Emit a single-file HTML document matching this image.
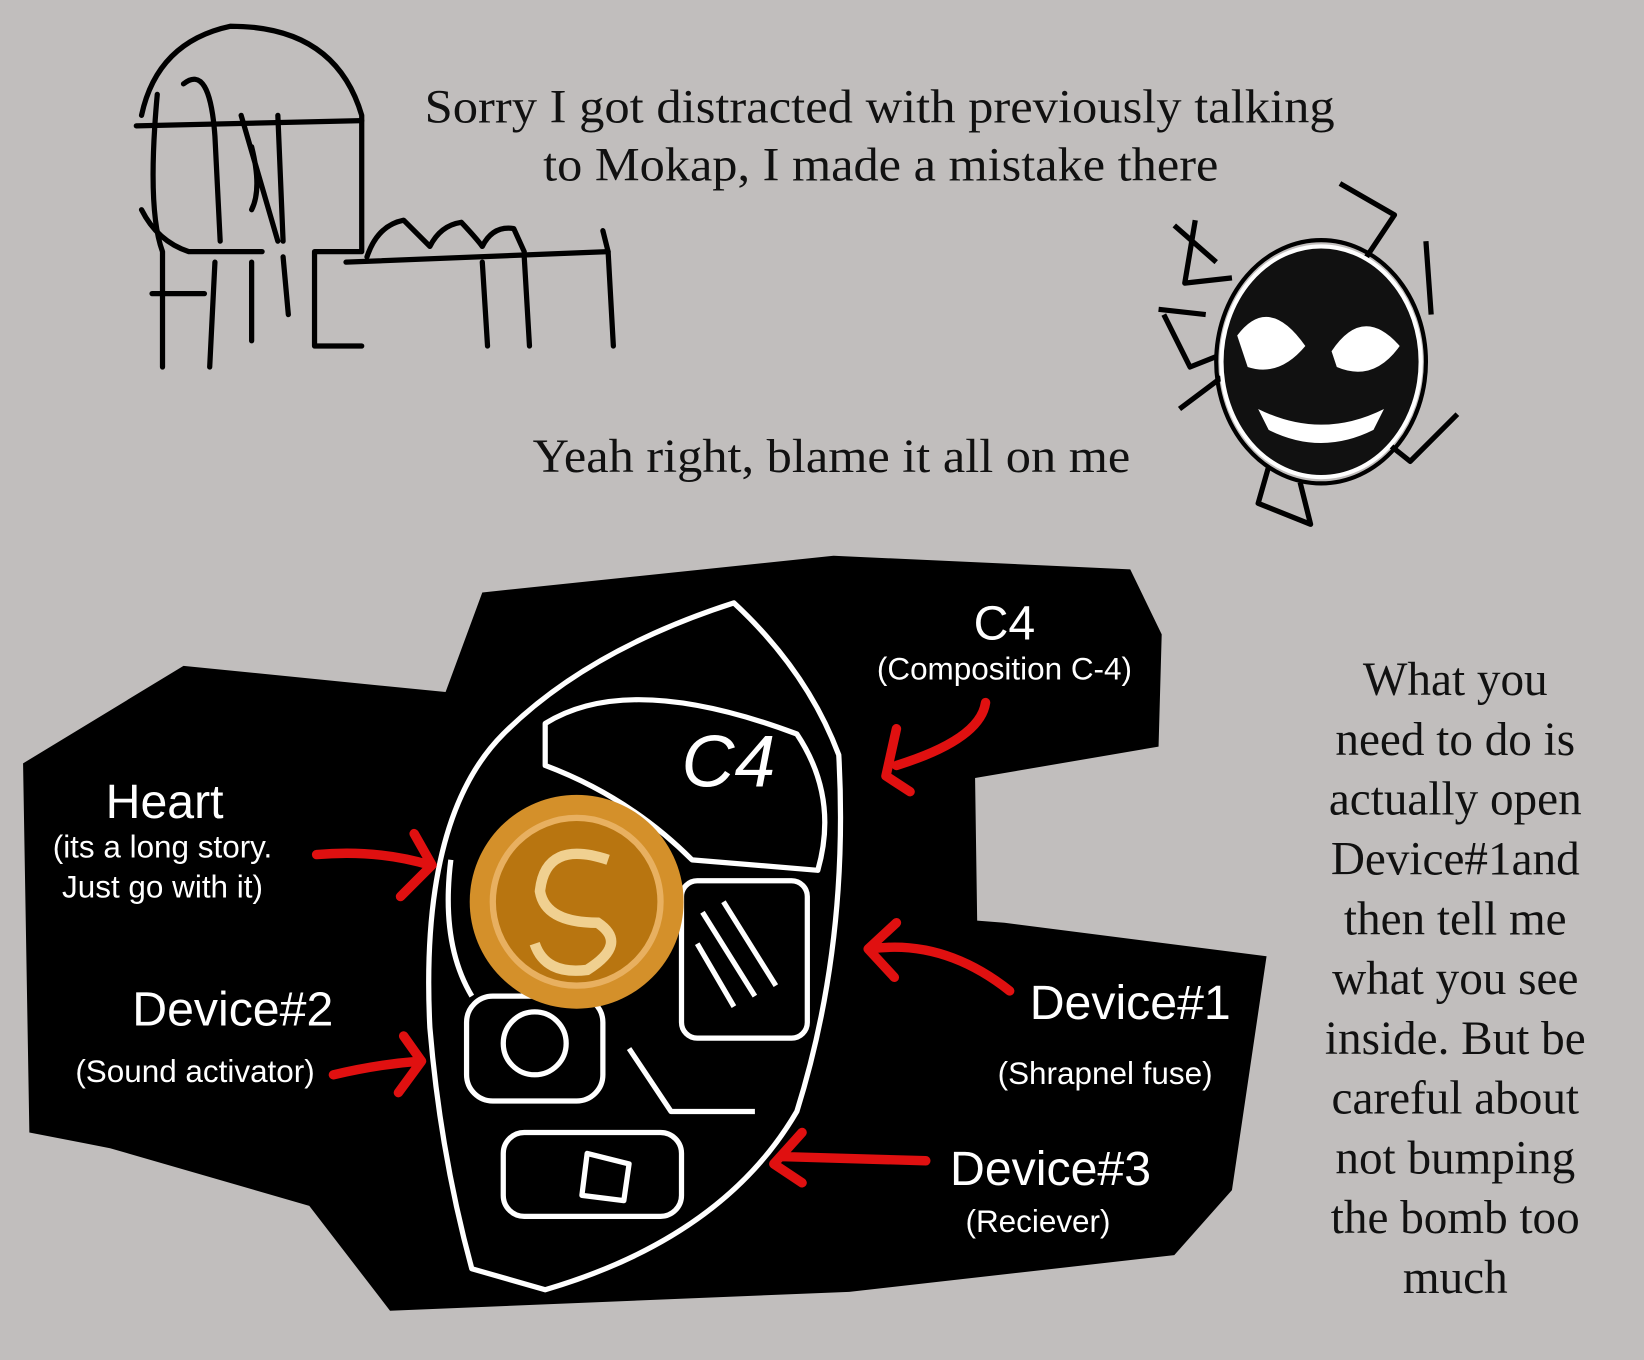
<!DOCTYPE html>
<html><head><meta charset="utf-8"><style>
html,body{margin:0;padding:0;background:#c1bebd;}
svg{display:block}
.s{font-family:"Liberation Serif",serif;fill:#111;}
.w{font-family:"Liberation Sans",sans-serif;fill:#fff;}
</style></head><body>
<svg width="1644" height="1360" viewBox="0 0 1568 1297" preserveAspectRatio="none" xmlns="http://www.w3.org/2000/svg">
<rect width="1568" height="1297" fill="#c1bebd"/>
<g fill="none" stroke="#000" stroke-width="5" stroke-linecap="round" stroke-linejoin="round">
<path d="M135,110 Q150,40 220,25 Q320,25 345,110 L345,240 L300,240 L300,330 L345,330"/>
<path d="M130,120 L345,115"/>
<path d="M150,90 Q140,200 155,240 L155,350"/>
<path d="M200,350 L205,250"/>
<path d="M175,80 Q200,60 205,130 L210,230"/>
<path d="M230,110 L265,230 M265,110 L270,230 M240,140 Q250,180 240,200"/>
<path d="M135,200 Q150,230 180,240 L250,240"/>
<path d="M145,280 L195,280 M240,250 L240,325 M270,245 L275,300"/>
<path d="M330,250 L580,240 L585,330 M460,250 L465,330 M500,245 L505,330"/>
<path d="M350,245 Q360,215 385,210 Q400,225 410,235 Q420,215 440,212 Q455,228 460,235 Q470,215 490,218 L500,240"/>
<path d="M575,220 L580,240"/>
</g>
<text class="s" x="405" y="117" font-size="45" textLength="868" lengthAdjust="spacingAndGlyphs">Sorry I got distracted with previously talking</text>
<text class="s" x="518" y="172" font-size="45" textLength="644" lengthAdjust="spacingAndGlyphs">to Mokap, I made a mistake there</text>
<text class="s" x="508" y="450" font-size="45" textLength="570" lengthAdjust="spacingAndGlyphs">Yeah right, blame it all on me</text>
<g fill="none" stroke="#000" stroke-width="5" stroke-linejoin="round">
<path d="M1278,175 L1330,205 L1300,250 M1360,230 L1365,300 M1105,295 L1150,300 M1125,390 L1165,360 M1140,210 L1130,270 L1175,265 M1390,395 L1345,440 L1320,420 M1210,445 L1200,480 L1250,500 L1240,460"/>
<path d="M1110,300 L1135,350 L1160,340 M1120,215 L1160,250"/>
</g>
<ellipse cx="1260" cy="345" rx="95" ry="110" fill="#111" stroke="#fff" stroke-width="4"/>
<ellipse cx="1260" cy="345" rx="100" ry="116" fill="none" stroke="#000" stroke-width="4"/>
<path d="M1180,320 Q1210,280 1245,330 Q1220,360 1190,350 Z" fill="#fff"/>
<path d="M1270,335 Q1300,290 1335,330 Q1310,365 1275,350 Z" fill="#fff"/>
<path d="M1200,390 Q1260,420 1320,390 L1310,410 Q1260,435 1210,410 Z" fill="#fff"/>
<polygon points="22,728 175,635 425,660 460,565 795,530 1078,543 1108,605 1105,712 930,742 932,878 958,880 1208,912 1175,1135 1120,1197 810,1232 372,1250 295,1150 105,1095 28,1080" fill="#000"/>
<g fill="none" stroke="#fff" stroke-width="5" stroke-linejoin="round">
<path d="M700,575 Q770,640 800,720 Q810,900 760,1060 Q690,1180 520,1230 L450,1210 Q420,1100 410,980 Q400,780 480,700 Q560,620 700,575 Z"/>
<path d="M520,690 Q600,640 760,700 Q800,760 780,830 L660,820 Q600,760 520,730 Z"/>
<rect x="650" y="840" width="120" height="150" rx="15"/>
<rect x="445" y="950" width="130" height="100" rx="25"/>
<circle cx="510" cy="995" r="30"/>
<rect x="480" y="1080" width="170" height="80" rx="20"/>
<path d="M560,1100 L600,1110 L595,1145 L555,1140 Z"/>
<path d="M670,870 L720,950 M690,860 L740,940 M665,900 L700,960"/>
<path d="M430,820 Q420,900 450,950 M600,1000 L640,1060 L720,1060"/>
</g>
<text class="w" x="650" y="750" font-size="70" font-style="italic" font-family="Liberation Serif">C4</text>
<circle cx="550" cy="860" r="102" fill="#d4902a"/>
<circle cx="550" cy="860" r="80" fill="#b87510" stroke="#e8b060" stroke-width="6"/>
<path d="M580,820 Q520,800 515,850 Q520,880 570,880 Q600,900 560,925 Q520,930 510,900" fill="none" stroke="#f0d090" stroke-width="10"/>
<g fill="none" stroke="#e01010" stroke-width="9" stroke-linecap="round" stroke-linejoin="round">
<path d="M940,670 Q935,705 855,730 M855,695 L845,740 L868,755"/>
<path d="M302,815 Q360,810 410,825 M395,795 L412,825 L382,855"/>
<path d="M963,945 Q900,895 830,905 M855,880 L828,905 L853,932"/>
<path d="M318,1025 Q360,1015 400,1012 M385,988 L402,1012 L380,1042"/>
<path d="M883,1107 L745,1103 M765,1080 L738,1110 L765,1128"/>
</g>
<text class="w" x="958" y="610" font-size="46" text-anchor="middle">C4</text>
<text class="w" x="958" y="648" font-size="30" text-anchor="middle">(Composition C-4)</text>
<text class="w" x="157" y="780" font-size="46" text-anchor="middle">Heart</text>
<text class="w" x="155" y="818" font-size="30" text-anchor="middle">(its a long story.</text>
<text class="w" x="155" y="856" font-size="30" text-anchor="middle">Just go with it)</text>
<text class="w" x="222" y="978" font-size="46" text-anchor="middle">Device#2</text>
<text class="w" x="186" y="1032" font-size="30" text-anchor="middle">(Sound activator)</text>
<text class="w" x="1078" y="972" font-size="46" text-anchor="middle">Device#1</text>
<text class="w" x="1054" y="1034" font-size="30" text-anchor="middle">(Shrapnel fuse)</text>
<text class="w" x="1002" y="1130" font-size="46" text-anchor="middle">Device#3</text>
<text class="w" x="990" y="1175" font-size="30" text-anchor="middle">(Reciever)</text>
<g class="s" font-size="45" text-anchor="middle">
<text x="1388" y="663">What you</text>
<text x="1388" y="720">need to do is</text>
<text x="1388" y="777">actually open</text>
<text x="1388" y="834">Device#1and</text>
<text x="1388" y="891">then tell me</text>
<text x="1388" y="948">what you see</text>
<text x="1388" y="1005">inside. But be</text>
<text x="1388" y="1062">careful about</text>
<text x="1388" y="1119">not bumping</text>
<text x="1388" y="1176">the bomb too</text>
<text x="1388" y="1233">much</text>
</g>
</svg>
</body></html>
